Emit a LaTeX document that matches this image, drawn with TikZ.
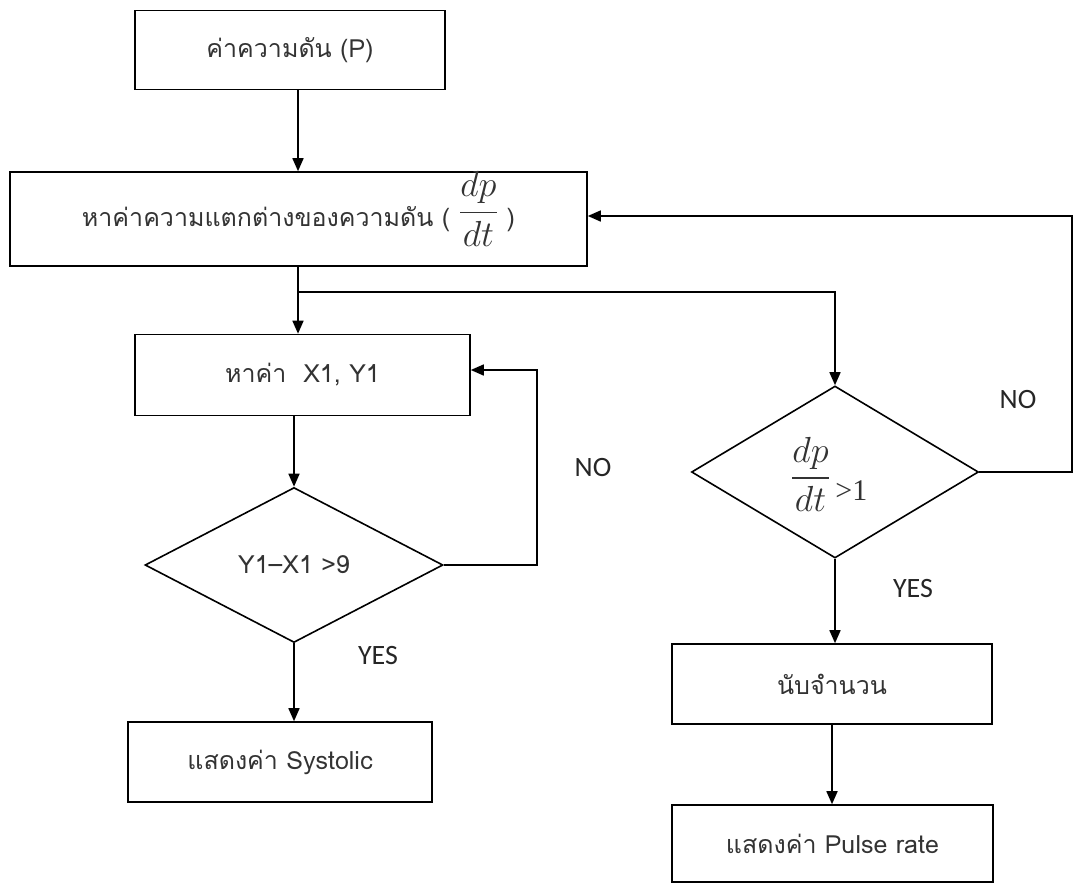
\RequirePackage{fix-cm}
\documentclass[tikz,border=0pt]{standalone}
\usepackage[no-math]{fontspec}
\setmainfont{Loma}[Script=Thai]
\newfontfamily\yesnofont{Carlito}
\newfontfamily\relfont{Liberation Serif}
\usetikzlibrary{calc}
\usetikzlibrary{arrows.meta}
\usetikzlibrary{shapes.geometric}
\usepackage{amsmath}
\usepackage{graphicx}

\newcommand{\dpdt}{\scalebox{1.45}{$\dfrac{dp}{dt}$}}

\tikzset{
 stepbox/.style={draw, line width=1.6pt, inner sep=0, text=black!80, font=\fontsize{25}{30}\selectfont},
 testbox/.style={draw, diamond, line width=1.6pt, inner sep=0, text=black!80, font=\fontsize{25}{30}\selectfont},
 answer/.style={text=black!85, font=\yesnofont\fontsize{28}{32}\selectfont}
}

\begin{document}
\begin{tikzpicture}[x=1pt, y=-1pt, line width=1.6pt, >={Triangle[length=13pt,width=11pt]}]
\useasboundingbox (0,0) rectangle (1075,884);
\node[stepbox, minimum width=310pt, minimum height=79pt] (pres) at (290,50) {ค่าความดัน (P)};
\node[stepbox, minimum width=577pt, minimum height=94pt] (diff) at (298.5,219) {หาค่าความแตกต่างของความดัน ( \raisebox{5pt}[0pt][0pt]{\dpdt} )};
\node[stepbox, minimum width=335pt, minimum height=81pt] (findxy) at (302.5,375) {หาค่า \ X1, Y1};
\node[testbox, minimum width=298pt, minimum height=155pt] (chk) at (294,565) {Y1--X1 >9};
\node[stepbox, minimum width=304pt, minimum height=80pt] (showsys) at (280,762) {แสดงค่า Systolic};
\node[testbox, minimum width=287pt, minimum height=172pt, text height=40pt, text depth=10pt] (slope) at (835,472) {\hspace*{-12pt}\dpdt\raisebox{-13pt}[0pt][0pt]{\relfont\fontsize{30}{32}\selectfont\,>1}};
\node[stepbox, minimum width=320pt, minimum height=80pt] (count) at (832,684) {นับจำนวน};
\node[stepbox, minimum width=321pt, minimum height=77pt] (showpulse) at (832.5,843.5) {แสดงค่า Pulse rate};

\node[answer] (yesA) at (378,655) {YES};
\node[answer] (noA) at (593,467) {NO};
\node[answer] (yesB) at (913,588) {YES};
\node[answer] (noB) at (1018,400) {NO};

\coordinate (split) at (298,292);
\coordinate (loopA) at (537,370);
\coordinate (loopB) at (1072,216);

\draw[->] (split |- pres.south) -- (split |- diff.north);
\draw (split |- diff.south) -- (split);
\draw[->] (split) -- (split |- findxy.north);
\draw[->] (split) -| (slope.north);
\draw[->] (chk.north |- findxy.south) -- (chk.north);
\draw[->] (chk.east) -| (loopA) -- (findxy.east |- loopA);
\draw[->] (chk.south) -- (chk.south |- showsys.north);
\draw[->] (slope.east) -| (loopB) -- (diff.east |- loopB);
\draw[->] (slope.south) -- (slope.south |- count.north);
\draw[->] (count.south) -- (count.south |- showpulse.north);
\end{tikzpicture}
\end{document}
